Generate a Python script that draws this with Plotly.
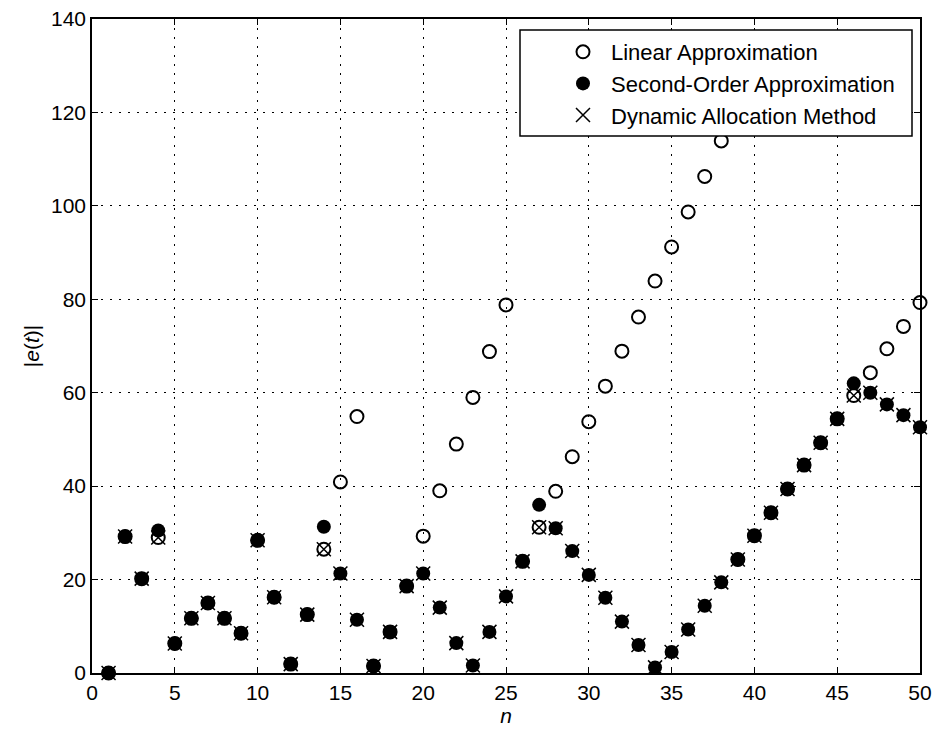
import plotly.graph_objects as go

n = list(range(1, 51))

second_order = [0.0, 29.2, 20.2, 30.5, 6.3, 11.7, 15.0, 11.7, 8.5, 28.4,
                16.2, 1.9, 12.5, 31.3, 21.3, 11.4, 1.5, 8.8, 18.6, 21.3,
                14.0, 6.4, 1.6, 8.8, 16.4, 23.9, 36.0, 31.0, 26.1, 21.0,
                16.1, 11.0, 6.0, 1.2, 4.5, 9.3, 14.4, 19.4, 24.3, 29.4,
                34.3, 39.4, 44.5, 49.3, 54.4, 62.0, 60.0, 57.5, 55.2, 52.6]

linear = [0.0, 29.2, 20.2, 29.0, 6.3, 11.7, 15.0, 11.7, 8.5, 28.4,
          16.2, 1.9, 12.5, 26.5, 40.9, 54.9, 1.5, 8.8, 18.6, 29.3,
          39.0, 49.0, 59.0, 68.8, 78.8, 23.9, 31.2, 38.9, 46.3, 53.8,
          61.4, 68.9, 76.2, 83.9, 91.2, 98.7, 106.3, 113.9, 24.3, 29.4,
          34.3, 39.4, 44.5, 49.3, 54.4, 59.4, 64.3, 69.4, 74.2, 79.3]

dynamic = [0.0, 29.2, 20.2, 29.0, 6.3, 11.7, 15.0, 11.7, 8.5, 28.4,
           16.2, 1.9, 12.5, 26.5, 21.3, 11.4, 1.5, 8.8, 18.6, 21.3,
           14.0, 6.4, 1.6, 8.8, 16.4, 23.9, 31.2, 31.0, 26.1, 21.0,
           16.1, 11.0, 6.0, 1.2, 4.5, 9.3, 14.4, 19.4, 24.3, 29.4,
           34.3, 39.4, 44.5, 49.3, 54.4, 59.4, 60.0, 57.5, 55.2, 52.6]

x_ticks = [0, 5, 10, 15, 20, 25, 30, 35, 40, 45, 50]
y_ticks = [0, 20, 40, 60, 80, 100, 120, 140]

FONT = "Liberation Sans, Arial, sans-serif"

fig = go.Figure()
fig.add_trace(go.Scatter(
    x=n, y=linear, mode="markers", name="Linear Approximation",
    marker=dict(symbol="circle-open", size=13, color="black",
                line=dict(width=2, color="black")),
    cliponaxis=False))
fig.add_trace(go.Scatter(
    x=n, y=second_order, mode="markers", name="Second-Order Approximation",
    marker=dict(symbol="circle", size=14, color="black",
                line=dict(width=0)),
    cliponaxis=False))
fig.add_trace(go.Scatter(
    x=n, y=dynamic, mode="markers", name="Dynamic Allocation Method",
    marker=dict(symbol="x-thin-open", size=14, color="black",
                line=dict(width=1.5, color="black")),
    cliponaxis=False))

# legend box (white, drawn above the grid)
fig.add_shape(type="rect", xref="paper", yref="paper",
              x0=(520 - 92) / 828, x1=(912 - 92) / 828,
              y0=(673 - 136) / 654, y1=(673 - 30) / 654,
              fillcolor="white", line=dict(color="black", width=1.5),
              layer="above")

axis_common = dict(
    showline=True, linecolor="black", linewidth=1.5, mirror="ticks",
    ticks="inside", ticklen=6, tickcolor="black", tickwidth=1,
    showgrid=True, gridcolor="black", gridwidth=1, griddash="2px,7px",
    zeroline=False, automargin=False,
    tickfont=dict(family=FONT, size=21, color="black"),
)

fig.update_xaxes(range=[0, 50], tickvals=x_ticks, **axis_common,
                 title=dict(text="<i>n</i>", font=dict(family=FONT, size=21, color="black"),
                            standoff=4))
fig.update_yaxes(range=[0, 140], tickvals=y_ticks, **axis_common,
                 title=dict(text="|<i>e</i>(<i>t</i>)|", font=dict(family=FONT, size=21, color="black"),
                            standoff=6))

fig.update_layout(
    width=933, height=734,
    margin=dict(l=92, r=13, t=19, b=61),
    paper_bgcolor="white", plot_bgcolor="white",
    showlegend=True,
    legend=dict(x=(555 - 92) / 828, y=(673 - 31) / 654, xanchor="left", yanchor="top",
                bgcolor="rgba(0,0,0,0)", borderwidth=0,
                font=dict(family=FONT, size=22, color="black"),
                itemwidth=46, tracegroupgap=0),
)

fig.write_html("out.html")
